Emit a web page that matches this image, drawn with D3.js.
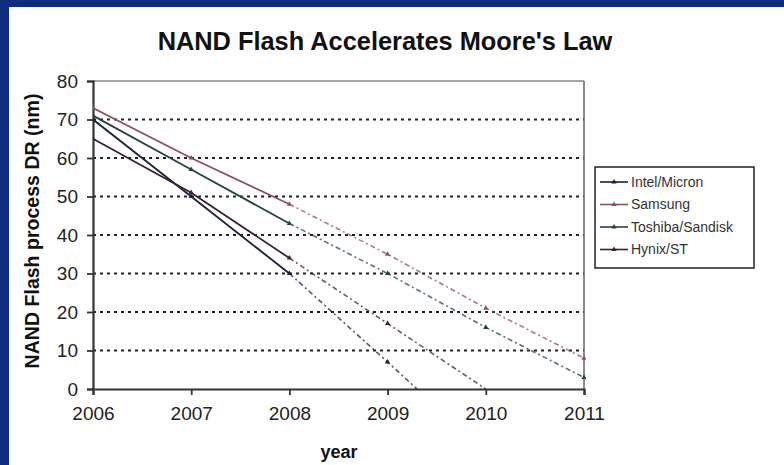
<!DOCTYPE html>
<html><head><meta charset="utf-8">
<script src="https://cdn.jsdelivr.net/npm/d3@7"></script>
<style>
html,body{margin:0;padding:0;background:#fff;}
svg{display:block;font-family:"Liberation Sans",Arial,sans-serif;}
</style></head>
<body>
<svg id="chart" width="784" height="465"></svg>
<script>
// ---- data ----
const title = "NAND Flash Accelerates Moore's Law";
const yLabel = "NAND Flash process DR (nm)";
const xLabel = "year";
const seriesNames = ["Intel/Micron", "Samsung", "Toshiba/Sandisk", "Hynix/ST"];
const intelYears   = [2006, 2007, 2008, 2009, 2009.3];
const intelValues  = [70, 50, 30, 7, 0];
const samsungYears  = [2006, 2007, 2008, 2009, 2010, 2011];
const samsungValues = [73, 60, 48, 35, 21, 8];
const toshibaYears  = [2006, 2007, 2008, 2009, 2010, 2011];
const toshibaValues = [71, 57, 43, 30, 16, 3];
const hynixYears  = [2006, 2007, 2008, 2009, 2010];
const hynixValues = [65, 51, 34, 17, 0];
const actualUntil = 2008; // solid up to here, dashed projection after
const xTicks = [2006, 2007, 2008, 2009, 2010, 2011];
const yTicks = [0, 10, 20, 30, 40, 50, 60, 70, 80];

const colors = ["#1c1f3a", "#8a5060", "#24443f", "#3a2035"];
const seriesYears = [intelYears, samsungYears, toshibaYears, hynixYears];
const seriesValues = [intelValues, samsungValues, toshibaValues, hynixValues];

const svg = d3.select("#chart");
const W = 784, H = 465;
svg.append("rect").attr("width", W).attr("height", H).attr("fill", "#fff");
// blue frame (top and left)
svg.append("rect").attr("x", 0).attr("y", 0).attr("width", W).attr("height", 7).attr("fill", "#0f2d7d");
svg.append("rect").attr("x", 0).attr("y", 0).attr("width", 9).attr("height", H).attr("fill", "#0f2d7d");

const L = 93, R = 584, T = 81, B = 389;
const x = d3.scaleLinear().domain([2006, 2011]).range([L, R]);
const y = d3.scaleLinear().domain([0, 80]).range([B, T]);

// gridlines
svg.append("g").selectAll("line").data(yTicks.filter(v => v > 0 && v < 80)).join("line")
  .attr("x1", L).attr("x2", R).attr("y1", d => y(d)).attr("y2", d => y(d))
  .attr("stroke", "#222").attr("stroke-width", 2).attr("stroke-dasharray", "3,4");

// frame top/right
svg.append("line").attr("x1", L).attr("x2", R).attr("y1", T).attr("y2", T).attr("stroke", "#888").attr("stroke-width", 1.5);
svg.append("line").attr("x1", R).attr("x2", R).attr("y1", T).attr("y2", B).attr("stroke", "#666").attr("stroke-width", 1.5);

// axes
const yAxis = d3.axisLeft(y).tickValues(yTicks).tickSize(6).tickPadding(9).tickFormat(d3.format("d"));
const gy = svg.append("g").attr("transform", `translate(${L},0)`).call(yAxis);
const xAxis = d3.axisBottom(x).tickValues(xTicks).tickSize(6).tickPadding(12).tickFormat(d3.format("d"));
const gx = svg.append("g").attr("transform", `translate(0,${B})`).call(xAxis);
[gx, gy].forEach(g => {
  g.select(".domain").attr("stroke", "#333").attr("stroke-width", 2.2);
  g.selectAll(".tick line").attr("stroke", "#333").attr("stroke-width", 1.8);
  g.selectAll(".tick text").attr("font-size", 19).attr("fill", "#222")
    .attr("font-family", "'Liberation Sans',Arial,sans-serif");
});

// series
const clipId = "plotclip";
svg.append("clipPath").attr("id", clipId).append("rect").attr("x", L).attr("y", T - 2).attr("width", R - L + 2).attr("height", B - T + 2);
const line = d3.line().x(d => x(d[0])).y(d => y(d[1]));
const sg = svg.append("g").attr("clip-path", `url(#${clipId})`);
seriesNames.forEach((name, i) => {
  const pts = seriesYears[i].map((yr, k) => [yr, seriesValues[i][k]]);
  const solid = pts.filter(p => p[0] <= actualUntil);
  const proj = pts.filter(p => p[0] >= actualUntil);
  sg.append("path").attr("d", line(solid)).attr("fill", "none")
    .attr("stroke", colors[i]).attr("stroke-width", 1.8);
  sg.append("path").attr("d", line(proj)).attr("fill", "none")
    .attr("stroke", colors[i]).attr("stroke-width", 1.6).attr("stroke-opacity", 0.75)
    .attr("stroke-dasharray", "5,3,2,3");
  sg.selectAll(null).data(pts.filter(p => Number.isInteger(p[0]) && p[1] > 0)).join("path")
    .attr("transform", p => `translate(${x(p[0])},${y(p[1])})`)
    .attr("d", d3.symbol(d3.symbolTriangle, 12)())
    .attr("fill", colors[i]);
});

// title
const tt = svg.append("text").attr("x", 385).attr("y", 50).attr("text-anchor", "middle")
  .attr("font-weight", "bold").attr("font-size", 20).attr("fill", "#111").text(title);
const tw = tt.node().getComputedTextLength();
tt.attr("font-size", 20 * 455 / tw);

// y label
const yl = svg.append("text").attr("transform", `translate(39,231) rotate(-90)`).attr("text-anchor", "middle")
  .attr("font-weight", "bold").attr("font-size", 17).attr("fill", "#111").text(yLabel);
const yw = yl.node().getComputedTextLength();
yl.attr("font-size", 17 * 275 / yw);

// x label
svg.append("text").attr("x", 339).attr("y", 458).attr("text-anchor", "middle")
  .attr("font-weight", "bold").attr("font-size", 18).attr("fill", "#111").text(xLabel);

// legend
const lg = svg.append("g");
lg.append("rect").attr("x", 595).attr("y", 167).attr("width", 159).attr("height", 101)
  .attr("fill", "#fff").attr("stroke", "#222").attr("stroke-width", 1.5);
seriesNames.forEach((name, i) => {
  const ly = 182 + i * 22.5;
  lg.append("line").attr("x1", 600).attr("x2", 628).attr("y1", ly).attr("y2", ly)
    .attr("stroke", colors[i]).attr("stroke-width", 1.6);
  lg.append("path").attr("transform", `translate(614,${ly})`).attr("d", d3.symbol(d3.symbolTriangle, 12)()).attr("fill", colors[i]);
  lg.append("text").attr("x", 631).attr("y", ly).attr("dy", "0.35em").attr("font-size", 14)
    .attr("fill", "#333").text(name);
});
</script>
</body></html>
